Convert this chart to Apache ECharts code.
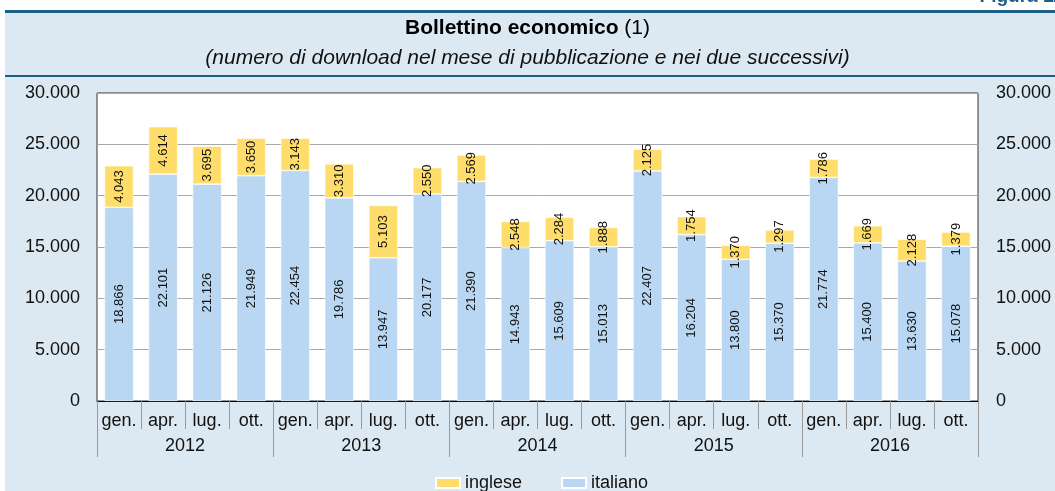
<!DOCTYPE html>
<html>
<head>
<meta charset="utf-8">
<script src="https://cdn.jsdelivr.net/npm/echarts@6/dist/echarts.min.js"></script>
<style>
  html, body { margin: 0; padding: 0; background: #fff; }
  #main { width: 1055px; height: 491px; }
</style>
</head>
<body>
<div id="main"></div>
<script>
// Dati
let months = ["gen.", "apr.", "lug.", "ott."];
let years = ["2012", "2013", "2014", "2015", "2016"];
let italiano = [18866, 22101, 21126, 21949, 22454, 19786, 13947, 20177, 21390, 14943,
  15609, 15013, 22407, 16204, 13800, 15370, 21774, 15400, 13630, 15078];
let inglese = [4043, 4614, 3695, 3650, 3143, 3310, 5103, 2550, 2569, 2548,
  2284, 1888, 2125, 1754, 1370, 1297, 1786, 1669, 2128, 1379];
let yTicks = [0, 5000, 10000, 15000, 20000, 25000, 30000];

// categorie mese per ogni anno
let categories = [];
years.forEach((y) => months.forEach((m) => categories.push(m)));

let colors = {
  inglese: "#ffdd6b",
  italiano: "#b9d7f2",
  bg: "#dce9f2",
  band: "#1d5f84",
  text: "#111",
};

// formattazione con il punto come separatore delle migliaia
let fmt = (v) => String(v).replace(/\B(?=(\d{3})+(?!\d))/g, ".");

let myChart = echarts.init(document.getElementById("main"));

let yAxisBase = {
  type: "value",
  min: yTicks[0],
  max: yTicks[yTicks.length - 1],
  interval: 5000,
  axisLine: { show: false },
  axisTick: { show: false },
  axisLabel: {
    color: colors.text,
    fontSize: 18,
    formatter: (v) => fmt(v),
  },
};

let barLabel = {
  show: true,
  position: "inside",
  rotate: 90,
  color: colors.text,
  fontSize: 13,
  formatter: (p) => fmt(p.value),
};

let option = {
  backgroundColor: "#fff",
  textStyle: { fontFamily: "Liberation Sans, Arial, sans-serif" },
  graphic: [
    { type: "rect", shape: { x: 5, y: 10, width: 1050, height: 481 }, style: { fill: colors.bg }, z: -10 },
    { type: "rect", shape: { x: 5, y: 10, width: 1050, height: 3 }, style: { fill: colors.band }, z: -9 },
    { type: "rect", shape: { x: 5, y: 75, width: 1050, height: 2 }, style: { fill: colors.band }, z: -9 },
    {
      type: "text", right: -8, top: -13,
      style: { text: "Figura 11", fill: colors.band, font: "bold 19px Liberation Sans, Arial" },
    },
    {
      type: "text", left: "center", top: 18,
      style: {
        text: "{b|Bollettino economico} (1)",
        fill: "#000",
        font: "21px Liberation Sans, Arial",
        rich: { b: { fontWeight: "bold", fontSize: 21, fill: "#000" } },
      },
    },
    {
      type: "text", left: "center", top: 48,
      style: {
        text: "(numero di download nel mese di pubblicazione e nei due successivi)",
        fill: "#111",
        font: "italic 21px Liberation Sans, Arial",
      },
    },
  ],
  grid: {
    left: 97,
    right: 77,
    top: 93,
    bottom: 90,
    show: true,
    backgroundColor: "#fff",
    borderColor: "#333",
    borderWidth: 1,
  },
  legend: {
    data: ["inglese", "italiano"],
    left: 430,
    top: 469,
    icon: "rect",
    itemWidth: 24,
    itemHeight: 10,
    itemGap: 39,
    textStyle: { fontSize: 18, color: colors.text },
  },
  xAxis: [
    {
      type: "category",
      data: categories,
      position: "bottom",
      axisLine: { lineStyle: { color: "#000", width: 1 } },
      axisTick: { show: true, interval: 0, length: 28, lineStyle: { color: "#999" } },
      axisLabel: { interval: 0, color: colors.text, fontSize: 18, margin: 11 },
    },
    {
      type: "category",
      data: years,
      position: "bottom",
      axisLine: { show: false },
      axisTick: { show: true, interval: 0, length: 56, lineStyle: { color: "#999" } },
      axisLabel: { interval: 0, color: colors.text, fontSize: 18, margin: 36 },
    },
  ],
  yAxis: [
    Object.assign({}, yAxisBase, {
      position: "left",
      axisLabel: Object.assign({}, yAxisBase.axisLabel, { margin: 17 }),
      splitLine: { lineStyle: { color: "#a8a8a8" } },
    }),
    Object.assign({}, yAxisBase, {
      position: "right",
      axisLabel: Object.assign({}, yAxisBase.axisLabel, { margin: 18 }),
      splitLine: { show: false },
    }),
  ],
  series: [
    {
      name: "italiano",
      type: "bar",
      stack: "tot",
      data: italiano,
      barWidth: "66%",
      itemStyle: { color: colors.italiano, borderColor: "#fff", borderWidth: 0.6 },
      label: barLabel,
    },
    {
      name: "inglese",
      type: "bar",
      stack: "tot",
      data: inglese,
      barWidth: "66%",
      itemStyle: { color: colors.inglese, borderColor: "#fff", borderWidth: 0.6 },
      label: barLabel,
    },
  ],
};

myChart.setOption(option);
window.addEventListener("resize", function () {
  myChart.resize();
});
</script>
</body>
</html>
